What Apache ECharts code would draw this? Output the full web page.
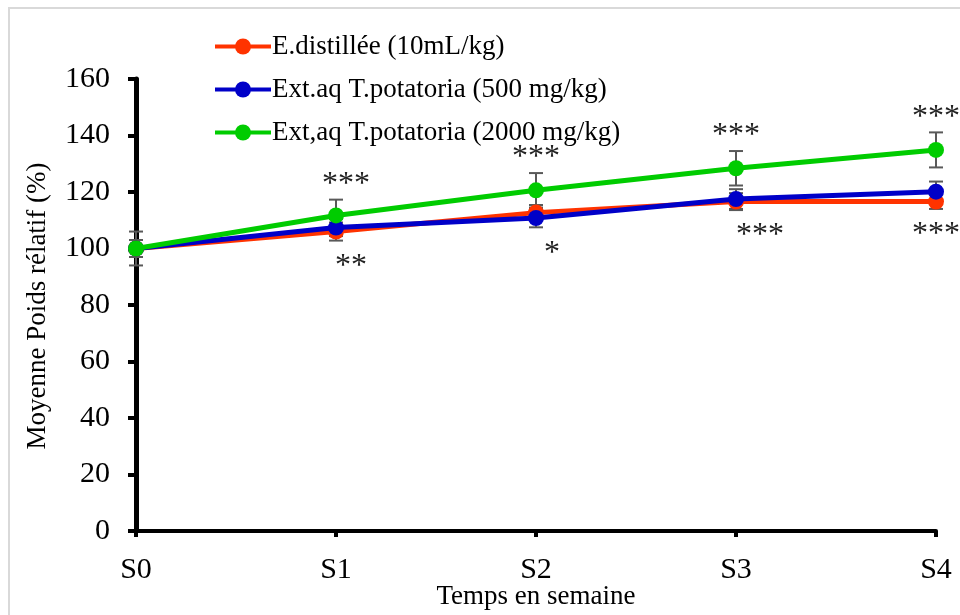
<!DOCTYPE html>
<html>
<head>
<meta charset="utf-8">
<script src="https://cdn.jsdelivr.net/npm/echarts@6/dist/echarts.min.js"></script>
<style>
  html, body { margin: 0; padding: 0; background: #ffffff; }
  #chart { width: 960px; height: 615px; }
</style>
</head>
<body>
<div id="chart"></div>
<script>
// Weekly relative body weight (%), mean ± error, per treatment group
const categories = ['S0', 'S1', 'S2', 'S3', 'S4'];
const seriesNames = [
  'E.distillée (10mL/kg)',
  'Ext.aq T.potatoria (500 mg/kg)',
  'Ext,aq T.potatoria (2000 mg/kg)'
];
const eauDistillee = [100, 106.0, 112.7, 116.6, 116.6];
const extAq500 = [100, 107.4, 110.8, 117.5, 120.1];
const extAq2000 = [100, 111.7, 120.6, 128.4, 134.9];
const errEauDistillee = [3.0, 3.2, 2.7, 3.0, 2.6];
const errExtAq500 = [3.0, 3.0, 3.3, 3.5, 3.6];
const errExtAq2000 = [6.0, 5.6, 6.1, 6.1, 6.2];
// significance marks: above the 2000 mg/kg group, below the other groups
const sigAbove = ['', '***', '***', '***', '***'];
const sigBelow = ['', '**', '*', '***', '***'];
const yMin = 0, yMax = 160, yStep = 20;

const colors = ['#ff3300', '#0000c8', '#00cc00'];
const FONT = '"Liberation Serif", "Times New Roman", serif';

// horizontal nudges for the star labels (px)
const aboveDx = [0, 10, 0, 0, 0];
const belowDx = [0, 15, 16, 24, 0];

const means = [eauDistillee, extAq500, extAq2000];
const errs = [errEauDistillee, errExtAq500, errExtAq2000];

function errorBarSeries(k) {
  return {
    type: 'custom',
    name: 'err' + k,
    z: 1,
    silent: true,
    data: means[k].map((v, i) => [i, v - errs[k][i], v + errs[k][i]]),
    renderItem: function (params, api) {
      const lo = api.coord([api.value(0), api.value(1)]);
      const hi = api.coord([api.value(0), api.value(2)]);
      const cap = 7;
      const st = { stroke: '#595959', lineWidth: 2 };
      return {
        type: 'group',
        children: [
          { type: 'line', shape: { x1: lo[0], y1: lo[1], x2: hi[0], y2: hi[1] }, style: st },
          { type: 'line', shape: { x1: lo[0] - cap, y1: lo[1], x2: lo[0] + cap, y2: lo[1] }, style: st },
          { type: 'line', shape: { x1: hi[0] - cap, y1: hi[1], x2: hi[0] + cap, y2: hi[1] }, style: st }
        ]
      };
    }
  };
}

const lineSeries = seriesNames.map((name, k) => ({
  type: 'line',
  name: name,
  data: means[k],
  z: 3 + k,
  symbol: 'circle',
  symbolSize: 16,
  color: colors[k],
  lineStyle: { width: 5, color: colors[k] },
  itemStyle: { color: colors[k] },
  emphasis: { disabled: true }
}));

// star labels placed relative to the error bar ends
const sigData = categories.map((c, i) => [
  i,
  extAq2000[i] + errExtAq2000[i],
  Math.min(eauDistillee[i] - errEauDistillee[i], extAq500[i] - errExtAq500[i])
]);

const sigSeries = {
  type: 'custom',
  name: 'sig',
  z: 10,
  silent: true,
  data: sigData,
  renderItem: function (params, api) {
    const i = api.value(0);
    const top = api.coord([i, api.value(1)]);
    const bot = api.coord([i, api.value(2)]);
    const font = '32px ' + FONT;
    return {
      type: 'group',
      children: [
        { type: 'text', style: { text: sigAbove[i], x: top[0] + aboveDx[i], y: top[1] - 15, font: font, fill: '#222',
            align: 'center', verticalAlign: 'middle', textAlign: 'center', textVerticalAlign: 'middle' } },
        { type: 'text', style: { text: sigBelow[i], x: bot[0] + belowDx[i], y: bot[1] + 26, font: font, fill: '#222',
            align: 'center', verticalAlign: 'middle', textAlign: 'center', textVerticalAlign: 'middle' } }
      ]
    };
  }
};

const chart = echarts.init(document.getElementById('chart'), null, { renderer: 'canvas' });
chart.setOption({
  animation: false,
  backgroundColor: '#ffffff',
  grid: { left: 136, right: 24, top: 79, bottom: 84, containLabel: false },
  legend: {
    orient: 'vertical',
    left: 208,
    top: 28,
    itemWidth: 56,
    itemHeight: 20,
    itemGap: 16,
    data: seriesNames,
    lineStyle: { width: 4 },
    textStyle: { fontFamily: FONT, fontSize: 27, color: '#000', padding: [0, 0, 0, -4] },
    selectedMode: false
  },
  xAxis: {
    type: 'category',
    data: categories,
    boundaryGap: false,
    axisLine: { lineStyle: { color: '#000', width: 4 } },
    axisTick: { show: true, length: 6, lineStyle: { color: '#000', width: 4 } },
    axisLabel: { fontFamily: FONT, fontSize: 30, color: '#000', margin: 24 },
    splitLine: { show: false }
  },
  yAxis: {
    type: 'value',
    min: yMin,
    max: yMax,
    interval: yStep,
    axisLine: { show: true, lineStyle: { color: '#000', width: 5 } },
    axisTick: { show: true, length: 8, lineStyle: { color: '#000', width: 4 } },
    axisLabel: { fontFamily: FONT, fontSize: 30, color: '#000', margin: 26 },
    splitLine: { show: false }
  },
  graphic: [
    { type: 'rect', z: -10, shape: { x: 9, y: 8, width: 980, height: 640 },
      style: { fill: 'none', stroke: '#d9d9d9', lineWidth: 2 } },
    { type: 'text', x: 38, y: 306, rotation: Math.PI / 2,
      style: { text: 'Moyenne Poids rélatif (%)', font: '27px ' + FONT, fill: '#000',
        align: 'center', verticalAlign: 'middle', textAlign: 'center', textVerticalAlign: 'middle' } },
    { type: 'text', x: 536, y: 597,
      style: { text: 'Temps en semaine', font: '27px ' + FONT, fill: '#000',
        align: 'center', verticalAlign: 'middle', textAlign: 'center', textVerticalAlign: 'middle' } }
  ],
  series: [errorBarSeries(0), errorBarSeries(1), errorBarSeries(2)].concat(lineSeries, [sigSeries])
});
</script>
</body>
</html>
